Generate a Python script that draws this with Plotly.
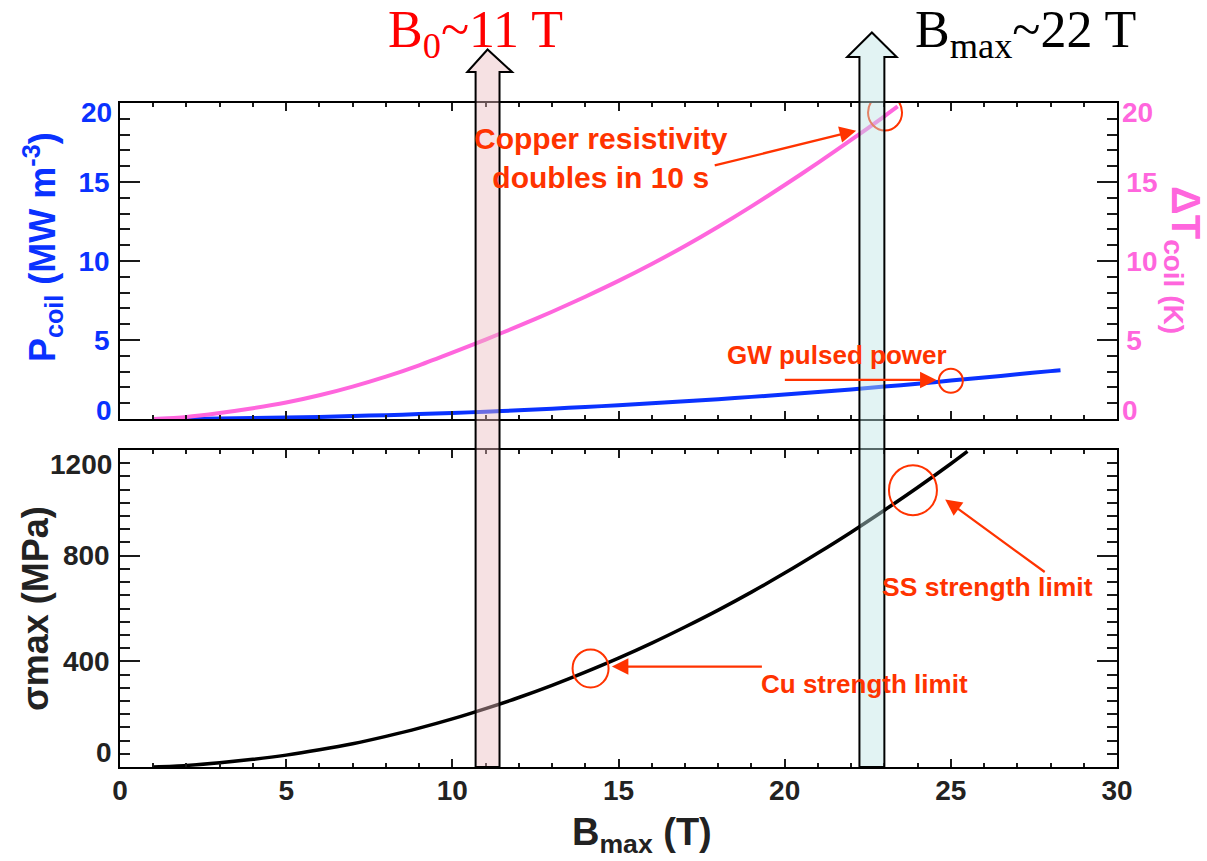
import plotly.graph_objects as go

# Peak field on the coil (T) and the quantities plotted against it
b_temp = [1, 2, 3, 4, 5, 6, 7, 8, 9, 10, 11, 12, 13, 14, 15, 16, 17, 18, 19, 20, 21, 22, 23, 23.4]
dt_coil = [0, 0.13, 0.38, 0.68, 1.04, 1.50, 2.05, 2.68, 3.40, 4.20, 5.03, 5.89, 6.79, 7.74,
           8.74, 9.81, 10.95, 12.17, 13.46, 14.81, 16.21, 17.66, 19.16, 19.78]

b_power = [1, 2, 3, 4, 5, 6, 7, 8, 9, 10, 11, 12, 13, 14, 15, 16, 17, 18, 19, 20, 21, 22, 23,
           24, 25, 26, 27, 28, 28.3]
p_coil = [0, 0.01, 0.03, 0.06, 0.09, 0.13, 0.19, 0.24, 0.31, 0.38, 0.46, 0.55, 0.65, 0.76, 0.87,
          0.99, 1.12, 1.25, 1.40, 1.55, 1.71, 1.87, 2.05, 2.23, 2.43, 2.62, 2.83, 3.03, 3.08]

b_stress = [1, 2, 3, 4, 5, 6, 7, 8, 9, 10, 11, 12, 13, 14, 15, 16, 17, 18, 19, 20, 21, 22, 23,
            24, 25, 25.5]
sigma_max = [0, 6, 16, 29, 45, 65, 88, 116, 147, 182, 221, 263, 309, 359, 412, 469, 530, 594,
             662, 734, 810, 889, 972, 1058, 1148, 1195]

x_ticks = [0, 5, 10, 15, 20, 25, 30]
x_minor = list(range(0, 31))
top_ticks = [0, 5, 10, 15, 20]
top_minor = list(range(0, 21))
stress_ticks = [0, 200, 400, 600, 800, 1000, 1200]
stress_labels = ["", "", "400", "", "800", "", ""]
stress_minor = list(range(0, 1201, 50))

BLUE = "#0a32ff"
PINK = "#ff66dd"
RED = "#ff3300"
INK = "#222222"
TICK = "#1a1a1a"
SANS = "Liberation Sans"
SERIF = "Liberation Serif"

fig = go.Figure()
fig.add_trace(go.Scatter(x=b_power, y=p_coil, mode="lines", xaxis="x2", yaxis="y2",
                         line=dict(color=BLUE, width=4, shape="spline", smoothing=0.8),
                         showlegend=False))
fig.add_trace(go.Scatter(x=b_temp, y=dt_coil, mode="lines", xaxis="x2", yaxis="y3",
                         line=dict(color=PINK, width=4, shape="spline", smoothing=0.8),
                         showlegend=False))
fig.add_trace(go.Scatter(x=b_stress, y=sigma_max, mode="lines", xaxis="x", yaxis="y",
                         line=dict(color="black", width=3.5, shape="spline", smoothing=0.8),
                         showlegend=False))

tick_font = dict(family=SANS, size=28, weight=700)
common_x = dict(range=[0, 30], tickmode="array", tickvals=x_ticks, ticks="inside", ticklen=8,
                tickwidth=2, tickcolor=TICK, showline=True, linecolor="black", linewidth=1.5,
                mirror="ticks", showgrid=False, zeroline=False,
                minor=dict(tickmode="array", tickvals=x_minor, ticks="inside", ticklen=4,
                           tickcolor=TICK, tickwidth=1.8, showgrid=False))


def y_common(ticks, minor_vals):
    return dict(tickmode="array", tickvals=ticks, ticks="inside", ticklen=20, tickwidth=2,
                tickcolor=TICK, showline=True, linecolor="black", linewidth=1.5,
                showgrid=False, zeroline=False,
                minor=dict(tickmode="array", tickvals=minor_vals, ticks="inside", ticklen=10,
                           tickcolor=TICK, tickwidth=1.8, showgrid=False))


fig.update_layout(
    width=1207, height=861, autosize=False,
    margin=dict(l=120, r=90, t=103, b=94),
    paper_bgcolor="white", plot_bgcolor="white",
    font=dict(family=SANS),
    xaxis=dict(common_x, anchor="y", domain=[0, 1], tickfont=dict(tick_font, color=INK),
               ticklabelstandoff=-2),
    xaxis2=dict(common_x, anchor="y2", domain=[0, 1], showticklabels=False, matches="x"),
    yaxis=dict(y_common(stress_ticks, stress_minor), domain=[0, 0.4774], range=[0, 1200],
               ticktext=stress_labels, mirror="ticks", ticklabelstandoff=3,
               tickfont=dict(tick_font, color=INK)),
    yaxis2=dict(y_common(top_ticks, top_minor), domain=[0.5241, 1], range=[0, 20], anchor="x2",
                ticktext=["", "5", "10", "15", ""], ticklabelstandoff=3,
                tickfont=dict(tick_font, color=BLUE)),
    yaxis3=dict(y_common(top_ticks, top_minor), range=[0, 20], overlaying="y2", side="right",
                anchor="x2", ticktext=["", "5", "10", "15", ""], ticklabelstandoff=2,
                tickfont=dict(tick_font, color=PINK)),
)

annotations = []


def note(text, x, y, font, textangle=0, xref="paper", yref="paper", xanchor="center",
         yanchor="middle", xshift=0, yshift=0):
    annotations.append(dict(text=text, x=x, y=y, xref=xref, yref=yref, xanchor=xanchor,
                            yanchor=yanchor, xshift=xshift, yshift=yshift, textangle=textangle,
                            showarrow=False, font=font))


# end-of-axis labels sit just inside the frame
note("20", 0, 20, dict(tick_font, color=BLUE), yref="y2", xanchor="right", xshift=-6, yshift=-9)
note("0", 0, 0, dict(tick_font, color=BLUE), yref="y2", xanchor="right", xshift=-6, yshift=9)
note("20", 1, 20, dict(tick_font, color=PINK), yref="y3", xanchor="left", xshift=3, yshift=-9)
note("0", 1, 0, dict(tick_font, color=PINK), yref="y3", xanchor="left", xshift=3, yshift=9)
note("1200", 0, 1200, dict(tick_font, color=INK), yref="y", xanchor="right", xshift=-6, yshift=-14)
note("0", 0, 0, dict(tick_font, color=INK), yref="y", xanchor="right", xshift=-6, yshift=14)

# axis titles
note("P<sub>coil</sub> (MW m<sup>-3</sup>)", -0.0782, 0.7831,
     dict(family=SANS, size=36, weight=700, color=BLUE), textangle=-90)
note("σmax (MPa)", -0.0843, 0.2395, dict(family=SANS, size=36, weight=700, color=INK),
     textangle=-90)
note("ΔT<sub>coil (K)</sub>", 1.0662, 0.7636, dict(family=SANS, size=40, weight=700, color=PINK),
     textangle=90)
note("B<sub>max</sub> (T)", 0.5236, -0.1024, dict(family=SANS, size=38, weight=700, color=INK))

# design-field labels above the frame
note("B<sub>0</sub>~11 T", 0.357, 1.105, dict(family=SERIF, size=52, color="#ff0000"))
note("B<sub>max</sub>~22 T", 0.9087, 1.105, dict(family=SERIF, size=52, color="black"))

# callout texts
callout = dict(family=SANS, weight=700, color=RED)
note("Copper resistivity<br>doubles in 10 s", 0.4824, 0.9166, dict(callout, size=30))
note("GW pulsed power", 0.7189, 0.6205, dict(callout, size=26))
note("SS strength limit", 0.8706, 0.2711, dict(callout, size=26.5))
note("Cu strength limit", 0.7472, 0.125, dict(callout, size=26))


# callout arrows
def pointer(x, y, ax, ay, xref, yref):
    annotations.append(dict(text="", x=x, y=y, ax=ax, ay=ay, xref=xref, yref=yref,
                            axref=xref, ayref=yref, showarrow=True, arrowhead=2,
                            arrowsize=1.5, arrowwidth=2.2, arrowcolor=RED, standoff=0))


pointer(22.15, 18.25, 17.85, 16.03, "x2", "y3")
pointer(24.57, 2.47, 19.96, 2.47, "x2", "y2")
pointer(14.8, 380, 19.36, 380, "x", "y")
pointer(24.83, 1013, 27.87, 734, "x", "y")

fig.update_layout(annotations=annotations)

shapes = []


# rings around the marked operating points
def ring(xc, yc, rx, ry, xref, yref):
    shapes.append(dict(type="circle", xref=xref, yref=yref, xsizemode="pixel", ysizemode="pixel",
                       xanchor=xc, yanchor=yc, x0=-rx, x1=rx, y0=-ry, y1=ry,
                       line=dict(color=RED, width=2), layer="above"))


ring(23.02, 19.4, 17, 18, "x2", "y3")
ring(25.0, 2.42, 12, 12, "x2", "y2")
ring(14.16, 373, 18, 19, "x", "y")
ring(23.86, 1048, 24, 25, "x", "y")


# vertical block arrows marking the design fields
def block_arrow(x0, x1, w0, w1, y_base, y_tip, fill):
    xc = (x0 + x1) / 2
    path = (f"M {x0},0 L {x0},{y_base} L {w0},{y_base} L {xc},{y_tip} "
            f"L {w1},{y_base} L {x1},{y_base} L {x1},0 Z")
    shapes.append(dict(type="path", path=path, xref="x", yref="paper", fillcolor=fill,
                       line=dict(color="black", width=2), layer="above"))


block_arrow(10.7, 11.42, 10.45, 11.8, 1.0467, 1.0806, "rgba(235,185,190,0.43)")
block_arrow(22.25, 23.0, 21.88, 23.37, 1.0693, 1.1062, "rgba(190,228,228,0.45)")

fig.update_layout(shapes=shapes)

fig.write_html("out.html")
